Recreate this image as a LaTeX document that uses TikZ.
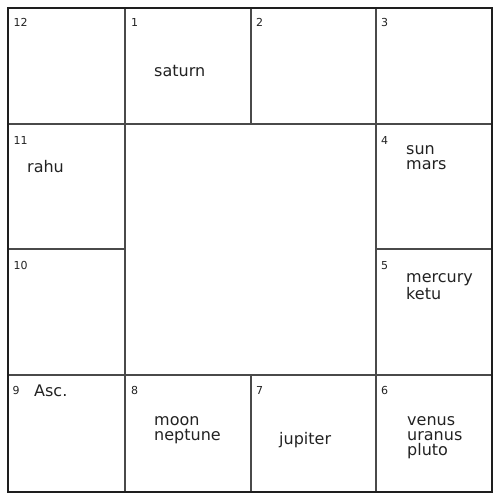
\documentclass[tikz,border=0pt]{standalone}
\usepackage{fontspec}
\setmainfont{DejaVu Sans}
\usetikzlibrary{positioning}
\definecolor{chartink}{HTML}{1E1E1E}
\definecolor{chartgrid}{HTML}{4A4A4A}
\definecolor{charttext}{HTML}{222222}
\begin{document}
\begin{tikzpicture}[x=1pt, y=-1pt,
  hnum/.style={anchor=base west, inner sep=0pt, font=\fontsize{11}{12}\selectfont, text=charttext},
  plist/.style={anchor=north west, inner sep=0pt, align=left, font=\fontsize{16}{15}\selectfont, text=charttext, execute at begin node=\strut},
  outerframe/.style={draw=chartink, line width=2.2pt},
  cellline/.style={draw=chartgrid, line width=1.8pt}]
\useasboundingbox (0,0) rectangle (500,500);
% ===== grid of the twelve houses =====
\draw[cellline] (125,8) -- (125,492);
\draw[cellline] (376,8) -- (376,492);
\draw[cellline] (8,124) -- (492,124);
\draw[cellline] (8,375) -- (492,375);
\draw[cellline] (251,8) -- (251,124);
\draw[cellline] (251,375) -- (251,492);
\draw[cellline] (8,249) -- (125,249);
\draw[cellline] (376,249) -- (492,249);
\draw[outerframe] (8,8) rectangle (492,492);
% ===== house numbers =====
\node[hnum] (h12) at (13.5,27) {12};
\node[hnum] (h1) at (131,27) {1};
\node[hnum] (h2) at (256,27) {2};
\node[hnum] (h3) at (381,27) {3};
\node[hnum] (h11) at (13.5,144) {11};
\node[hnum] (h4) at (381,144) {4};
\node[hnum] (h10) at (13.5,269) {10};
\node[hnum] (h5) at (381,269) {5};
\node[hnum] (h9) at (12.5,394) {9};
\node[hnum] (h8) at (131,394) {8};
\node[hnum] (h7) at (256,394) {7};
\node[hnum] (h6) at (381,394) {6};
% ===== occupants =====
\node[plist] (asc) at (34,384.5) {Asc.};
\node[plist] (p1) at (154,65.5) {saturn};
\node[plist] (p11) at (27,160.5) {rahu};
\node[plist] (p4) at (406,145.5) {sun\\mars};
\node[plist] (p5) at (406,273.5) {mercury\\ketu};
\node[plist] (p8) at (154,416.5) {moon\\neptune};
\node[plist] (p7) at (279,432) {jupiter};
\node[plist] (p6) at (407,416.5) {venus\\uranus\\pluto};
\end{tikzpicture}
\end{document}
